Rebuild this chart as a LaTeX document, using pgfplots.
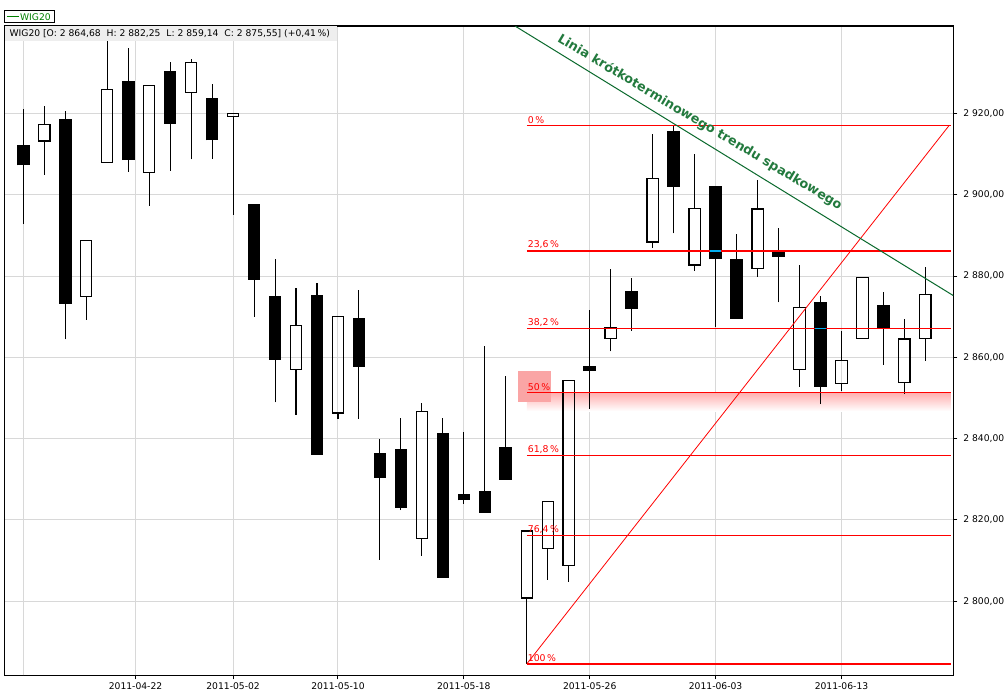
\documentclass[border=0pt]{standalone}
\usepackage{fontspec}
\setmainfont{DejaVu Sans}
\usepackage{pgfplots}
\pgfplotsset{compat=1.18}
\usepackage{pgfplotstable}

\definecolor{gridgray}{RGB}{216,216,216}
\definecolor{trendgreen}{RGB}{10,105,45}
\definecolor{textgreen}{RGB}{35,122,62}
\definecolor{legendgreen}{RGB}{0,128,0}
\definecolor{headergray}{RGB}{238,238,238}
\definecolor{fibred}{RGB}{255,0,0}
\definecolor{pinkbox}{RGB}{250,165,165}

% down (black) candles: index, open, high, low, close
\pgfplotstableread{
i O H L C
0 2912.3 2921.0 2892.8 2907.2
2 2918.6 2920.5 2864.4 2873.2
5 2928.0 2936.1 2905.7 2908.5
7 2930.4 2932.7 2905.9 2917.5
9 2923.9 2927.2 2908.9 2913.4
11 2897.7 2897.7 2870.0 2879.1
12 2875.1 2884.1 2848.9 2859.4
14 2875.3 2878.3 2836.0 2836.0
16 2869.7 2876.6 2844.9 2857.7
17 2836.4 2839.9 2810.2 2830.4
18 2837.5 2845.1 2822.4 2823.0
20 2841.4 2845.1 2805.8 2805.8
21 2826.4 2841.7 2824.0 2824.8
22 2827.1 2862.8 2821.8 2821.8
23 2838.0 2855.4 2829.9 2829.9
27 2858.0 2871.7 2847.4 2856.6
29 2876.3 2879.5 2866.6 2872.0
31 2915.7 2917.1 2890.5 2902.0
33 2902.1 2902.1 2867.5 2884.1
34 2884.1 2890.3 2869.5 2869.5
36 2886.0 2891.8 2873.5 2884.8
38 2873.6 2875.1 2848.5 2852.8
41 2872.9 2876.1 2858.2 2867.2
}\down

% up (white) candles: index, open, high, low, close
\pgfplotstableread{
i O H L C
1 2913.2 2921.8 2904.9 2917.3
3 2875.0 2888.8 2869.3 2888.8
4 2908.0 2938.0 2908.0 2925.9
6 2905.5 2926.9 2897.3 2926.9
8 2925.2 2933.4 2908.7 2932.6
10 2919.3 2920.0 2895.1 2920.0
13 2857.1 2877.0 2845.9 2867.9
15 2846.3 2870.1 2844.9 2870.1
19 2815.5 2848.8 2811.2 2846.7
24 2800.8 2817.3 2784.6 2817.3
25 2813.0 2824.6 2805.3 2824.6
26 2808.8 2854.4 2804.8 2854.4
28 2864.7 2881.8 2861.5 2867.4
30 2888.4 2915.0 2887.0 2904.0
32 2882.7 2910.1 2881.3 2896.7
35 2881.9 2903.7 2879.8 2896.5
37 2857.1 2882.8 2852.8 2872.3
39 2853.6 2866.5 2851.7 2859.2
40 2864.7 2879.7 2864.7 2879.7
42 2853.9 2869.4 2851.1 2864.5
43 2864.68 2882.25 2859.14 2875.55
}\up

\pgfplotsset{
  candlebar/.style={draw=none, mark=none,
    error bars/.cd, y dir=plus, y explicit, error mark=none,
    error bar style={draw=black, solid, line width=#1}},
  candleside/.style={draw=none, mark=none,
    error bars/.cd, y dir=plus, y explicit, error mark=none,
    error bar style={draw=black, solid, line width=0.9pt, line cap=rect}},
  candleedge/.style={draw=none, mark=none,
    error bars/.cd, x dir=both, x fixed=0.27, error mark=none,
    error bar style={draw=black, solid, line width=0.9pt, line cap=rect}},
}

\begin{document}
\begin{tikzpicture}[x=0.75pt,y=0.75pt]
\path[use as bounding box, fill=white] (0,0) rectangle (1008,693);
\begin{axis}[
  at={(3.375pt,13.125pt)}, anchor=south west, scale only axis,
  width=711.6pt, height=487.1pt,
  xmin=-0.896, xmax=44.33, ymin=2781.75, ymax=2941.5,
  axis line style={black, line width=0.9pt},
  xtick={5.35,10,15,21,27,33,39},
  xticklabels={2011-04-22,2011-05-02,2011-05-10,2011-05-18,2011-05-26,2011-06-03,2011-06-13},
  extra x ticks={0}, extra x tick labels={},
  extra x tick style={grid=major, major tick length=0pt},
  ytick={2800,2820,2840,2860,2880,2900,2920},
  yticklabels={{2 800,00},{2 820,00},{2 840,00},{2 860,00},{2 880,00},{2 900,00},{2 920,00}},
  xtick pos=left, ytick pos=right, yticklabel pos=right,
  tick align=outside, major tick length=3pt,
  tick style={black, line width=0.75pt},
  xmajorgrids, ymajorgrids,
  major grid style={gridgray, line width=0.75pt},
  tick label style={font=\fontsize{6.9}{8}\selectfont, black},
  xticklabel style={yshift=1pt},
  yticklabel style={xshift=1pt},
]
% shading under the 50% level
\shade[top color=red!32, bottom color=white] (axis cs:24,2851.4) rectangle (axis cs:44.2,2846.8);

% down candles
\addplot[candlebar=0.8pt] table[x=i, y=L, y error plus expr=\thisrow{H}-\thisrow{L}] {\down};
\addplot[candlebar=9.5pt] table[x=i, y=C, y error plus expr=\thisrow{O}-\thisrow{C}] {\down};
% up candles
\addplot[candlebar=0.8pt] table[x=i, y=L, y error plus expr=\thisrow{O}-\thisrow{L}] {\up};
\addplot[candlebar=0.8pt] table[x=i, y=C, y error plus expr=\thisrow{H}-\thisrow{C}] {\up};
\addplot[candleside] table[x expr=\thisrow{i}-0.27, y=O, y error plus expr=\thisrow{C}-\thisrow{O}] {\up};
\addplot[candleside] table[x expr=\thisrow{i}+0.27, y=O, y error plus expr=\thisrow{C}-\thisrow{O}] {\up};
\addplot[candleedge] table[x=i, y=O] {\up};
\addplot[candleedge] table[x=i, y=C] {\up};

% pink box behind the 50% label
\fill[pinkbox] (axis cs:23.57,2856.6) rectangle (axis cs:25.15,2849.1);

% Fibonacci levels
\addplot[fibred, line width=0.9pt] coordinates {(24,2917.1) (44.2,2917.1)};
\addplot[fibred, line width=1.1pt] coordinates {(24,2886.2) (44.2,2886.2)};
\addplot[fibred, line width=0.75pt] coordinates {(24,2867.0) (44.2,2867.0)};
\addplot[fibred, line width=0.75pt] coordinates {(24,2851.4) (44.2,2851.4)};
\addplot[fibred, line width=0.75pt] coordinates {(24,2835.8) (44.2,2835.8)};
\addplot[fibred, line width=0.75pt] coordinates {(24,2816.2) (44.2,2816.2)};
\addplot[fibred, line width=1.1pt] coordinates {(24,2784.6) (44.2,2784.6)};
% inverted segments over black bodies
\addplot[cyan, line width=1.1pt] coordinates {(32.72,2886.2) (33.28,2886.2)};
\addplot[cyan, line width=0.75pt] coordinates {(37.72,2867.0) (38.28,2867.0)};
% diagonal
\addplot[fibred, line width=0.6pt] coordinates {(24,2784.6) (44.14,2917.1)};
% short-term trend line
\addplot[trendgreen, line width=0.75pt] coordinates {(23.44,2941.5) (44.33,2875.2)};

\begin{scope}[every node/.style={anchor=south west, text=fibred, inner sep=0pt, font=\fontsize{7}{8}\selectfont, yshift=1.2pt, xshift=0.6pt}]
\node at (axis cs:24,2917.1) {0\,\%};
\node at (axis cs:24,2886.2) {23,6\,\%};
\node at (axis cs:24,2867.0) {38,2\,\%};
\node at (axis cs:24,2851.4) {50\,\%};
\node at (axis cs:24,2835.8) {61,8\,\%};
\node at (axis cs:24,2816.2) {76,4\,\%};
\node at (axis cs:24,2784.6) {100\,\%};
\end{scope}

\node[rotate=-30.8, text=textgreen, font=\bfseries\fontsize{9.6}{11}\selectfont, inner sep=0pt]
  at (axis cs:32.25,2917.8) {Linia krótkoterminowego trendu spadkowego};
\end{axis}

% header bar
\fill[headergray] (5,652.3) rectangle (337,666.5);
\node[anchor=west, inner sep=0pt, font=\fontsize{6.9}{8}\selectfont] at (9.3,659.5)
  {WIG20 [O: 2 864,68~ H: 2 882,25~ L: 2 859,14~ C: 2 875,55] (+0,41\,\%)};
% legend
\draw[black, line width=0.75pt] (4.5,670.3) rectangle (54,682);
\draw[legendgreen, line width=0.75pt] (6.7,676.2) -- (19.3,676.2);
\node[anchor=west, inner sep=0pt, text=legendgreen, font=\fontsize{6.9}{8}\selectfont] at (19.8,676.2) {WIG20};
\end{tikzpicture}
\end{document}
